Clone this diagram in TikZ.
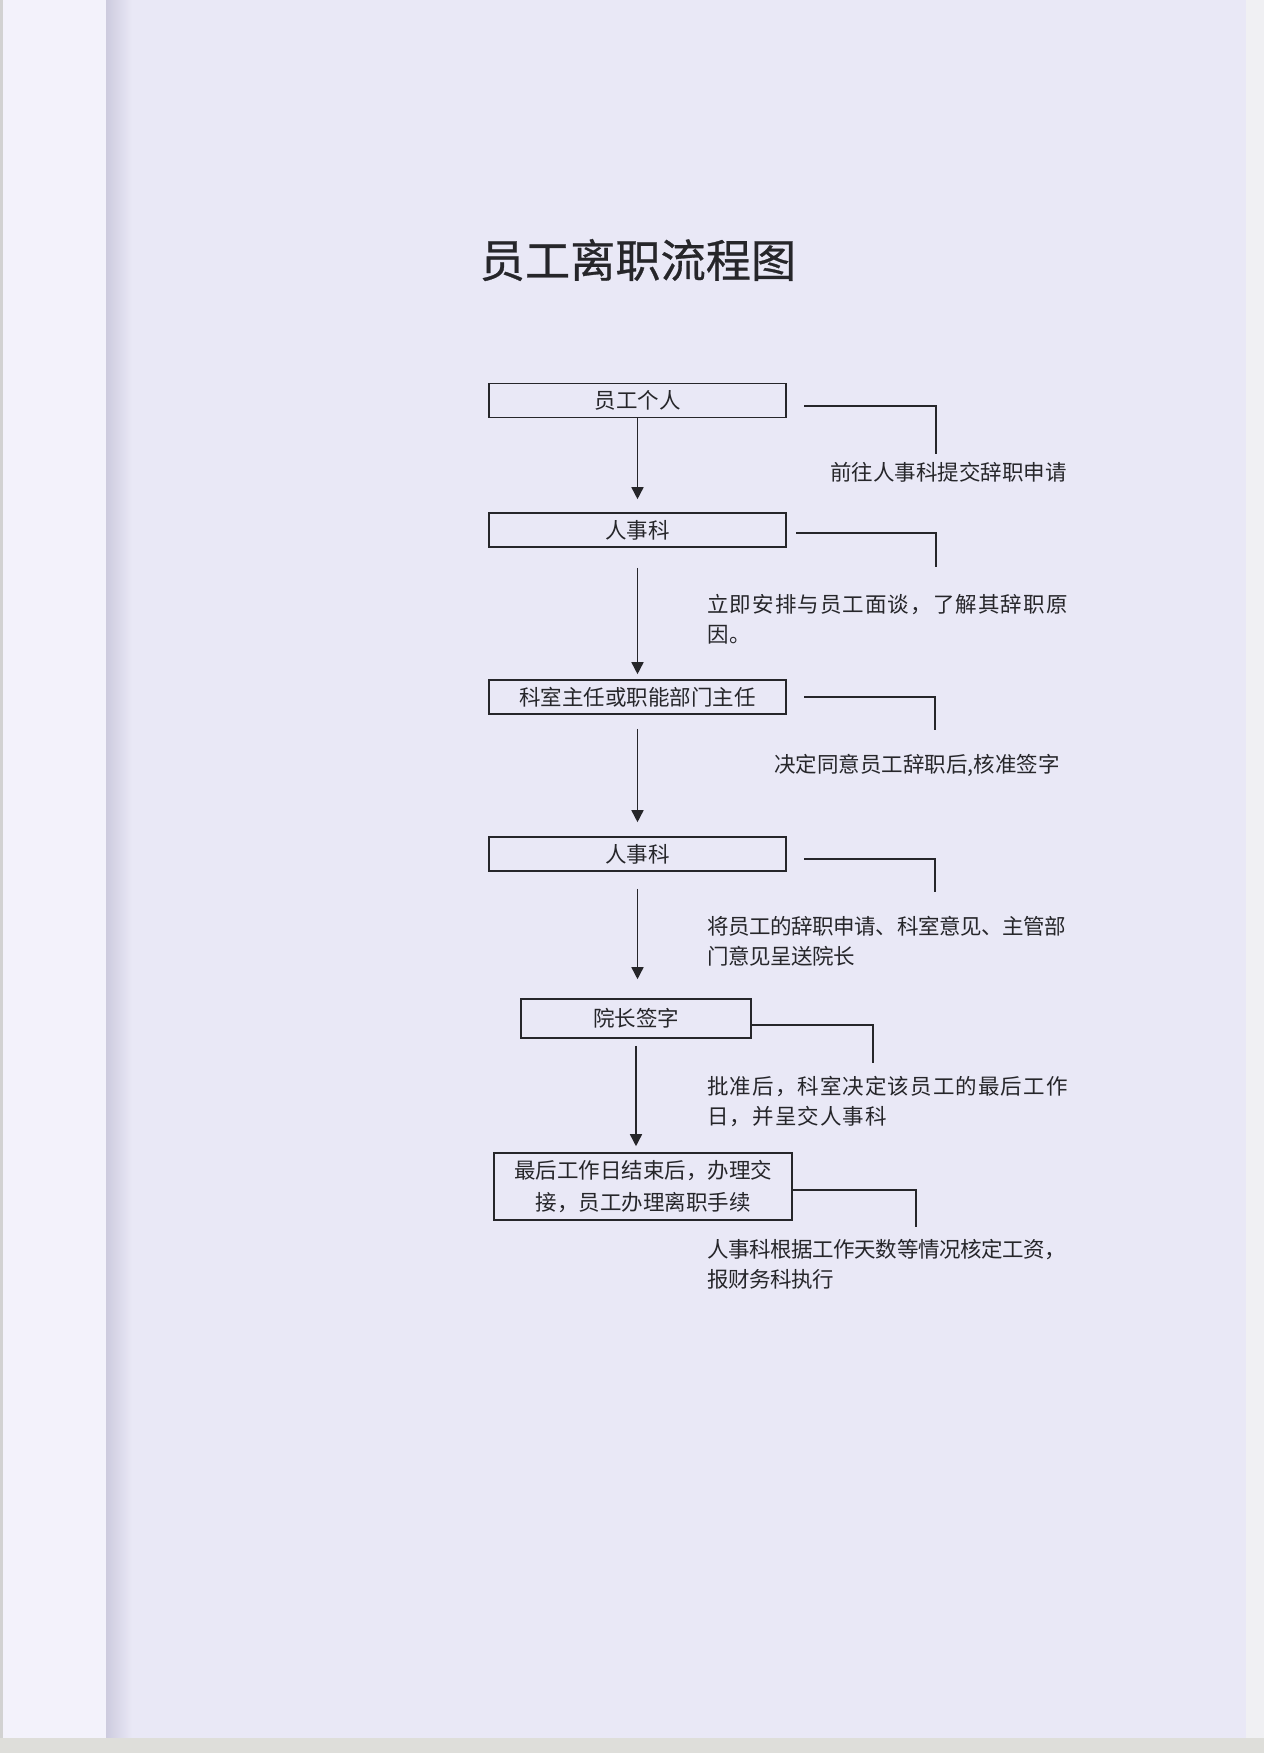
\documentclass[tikz,border=0pt]{standalone}
\usepackage{fontspec}
\setmainfont{Noto Sans CJK SC}
\newfontfamily\cjkwide[LetterSpace=5]{Noto Sans CJK SC}
\newfontfamily\cjknarrow[LetterSpace=-2]{Noto Sans CJK SC}
\newfontfamily\titlefont[FakeBold=0.6]{Noto Sans CJK SC}
\usetikzlibrary{arrows.meta}
\definecolor{pagebg}{RGB}{233,232,246}
\definecolor{stripbg}{RGB}{243,242,251}
\definecolor{shadow}{RGB}{205,203,222}
\definecolor{rightbg}{RGB}{240,240,243}
\definecolor{bottombg}{RGB}{222,222,218}
\definecolor{ink}{RGB}{38,38,42}
\tikzset{
  stepbox/.style={draw=ink, line width=0.8pt, inner sep=0pt, text=ink,
    minimum width=148.5pt, minimum height=17pt,
    font=\fontsize{10.75pt}{16pt}\selectfont, align=center},
  note/.style={inner sep=0pt, anchor=base west, text=ink, align=left,
    font=\fontsize{10.75pt}{15pt}\selectfont},
  widenote/.style={note, font=\fontsize{10.75pt}{15pt}\cjkwide},
  narrownote/.style={note, font=\fontsize{10.75pt}{15pt}\cjknarrow},
  arr/.style={draw=ink, line width=0.75pt, -{Triangle[length=6pt,width=6pt]}},
  conn/.style={draw=ink, line width=0.75pt}
}
\begin{document}
\begin{tikzpicture}[x=0.5pt,y=-0.5pt]
\useasboundingbox (0,0) rectangle (1264,1753);
% scanned page background
\fill[pagebg] (0,0) rectangle (1264,1753);
\fill[stripbg] (0,0) rectangle (106,1738);
\fill[gray!35] (0,0) rectangle (3,1738);
\shade[left color=shadow, right color=pagebg] (106,0) rectangle (132,1738);
\fill[rightbg] (1246,0) rectangle (1264,1738);
\fill[bottombg] (0,1738) rectangle (1264,1753);

% title
\node[text=ink, inner sep=0pt, font=\fontsize{22.6pt}{26pt}\titlefont] (title) at (638,260) {员工离职流程图};

% boxes
\node[stepbox] (b1) at (637.5,400.5) {员工个人};
\node[stepbox] (b2) at (637.5,530) {人事科};
\node[stepbox] (b3) at (637.5,697) {科室主任或职能部门主任};
\node[stepbox] (b4) at (637.5,854) {人事科};
\node[stepbox, minimum width=115pt, minimum height=19.5pt] (b5) at (636,1018.5) {院长签字};
\node[stepbox, minimum width=149pt, minimum height=33.5pt] (b6) at (643,1186.5) {最后工作日结束后，办理交\\接，员工办理离职手续};

% flow arrows
\draw[arr] (b1.south) -- ([yshift=6.5pt]b2.north);
\draw[arr] ([yshift=-10pt]b2.south) -- ([yshift=2.5pt]b3.north);
\draw[arr] ([yshift=-7pt]b3.south) -- ([yshift=7pt]b4.north);
\draw[arr] ([yshift=-8.5pt]b4.south) -- ([yshift=9.5pt]b4.south |- b5.north);
\draw[arr] ([yshift=-3.5pt]b5.south) -- ([yshift=3pt]b5.south |- b6.north);

% side notes (anchor = baseline of the last line)
\node[note] (n1) at (830,480) {前往人事科提交辞职申请};
\node[widenote] (n2) at (707,642) {立即安排与员工面谈，了解其辞职原\\因。};
\node[note] (n3) at (774,772) {决定同意员工辞职后,核准签字};
\node[narrownote] (n4) at (707,964) {将员工的辞职申请、科室意见、主管部\\门意见呈送院长};
\node[widenote] (n5) at (707,1124) {批准后，科室决定该员工的最后工作\\日，并呈交人事科};
\node[narrownote] (n6) at (707,1287) {人事科根据工作天数等情况核定工资，\\报财务科执行};

% bracket connectors
\coordinate (s1) at (804,406);  \coordinate (k1) at (936,454);
\coordinate (s2) at (796,533);  \coordinate (k2) at (936,567);
\coordinate (s3) at (804,697);  \coordinate (k3) at (935,730);
\coordinate (s4) at (804,859);  \coordinate (k4) at (935,892);
\coordinate (s5) at (b5.east |- 0,1025); \coordinate (k5) at (873,1063);
\coordinate (s6) at (b6.east |- 0,1190); \coordinate (k6) at (916,1227);
\draw[conn] (s1) -| (k1);
\draw[conn] (s2) -| (k2);
\draw[conn] (s3) -| (k3);
\draw[conn] (s4) -| (k4);
\draw[conn] (s5) -| (k5);
\draw[conn] (s6) -| (k6);
\end{tikzpicture}
\end{document}
